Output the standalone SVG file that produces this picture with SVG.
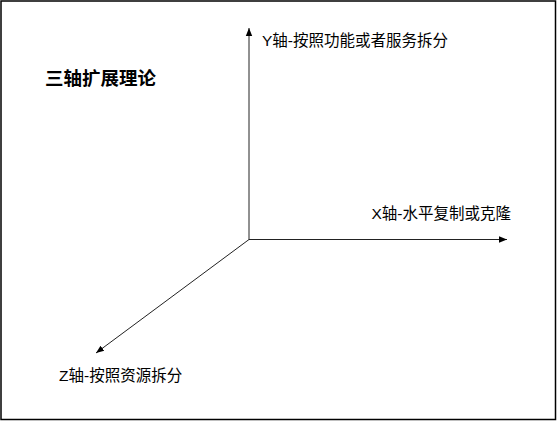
<svg xmlns="http://www.w3.org/2000/svg" width="557" height="421" viewBox="0 0 557 421">
<style>
.lbl{font-family:"Liberation Sans","Noto Sans CJK SC",sans-serif;font-size:15.5px;fill:#000}
.title{font-family:"Liberation Sans","Noto Sans CJK SC",sans-serif;font-size:18.5px;font-weight:bold;fill:#000}
.axis{stroke:#222;stroke-width:1;fill:none}
</style>
<defs>
<marker id="arr" viewBox="0 0 10 10" refX="10" refY="5" markerWidth="8" markerHeight="8" markerUnits="userSpaceOnUse" orient="auto">
<path d="M0,1 L10,5 L0,9 Z" fill="#000"/>
</marker>
</defs>
<rect x="1" y="1" width="554.5" height="418.5" fill="#fff" stroke="#000" stroke-width="1.5"/>
<g id="title"><text class="title" x="45" y="85">三轴扩展理论</text></g>
<g id="connectors">
<line class="axis" x1="249" y1="239.5" x2="249" y2="28" marker-end="url(#arr)"/>
<line class="axis" x1="249" y1="239.5" x2="507" y2="239.5" marker-end="url(#arr)"/>
<line class="axis" x1="249" y1="239.5" x2="96" y2="353" marker-end="url(#arr)"/>
</g>
<g id="y-label"><text class="lbl" x="262" y="46">Y轴-按照功能或者服务拆分</text></g>
<g id="x-label"><text class="lbl" x="371.5" y="219">X轴-水平复制或克隆</text></g>
<g id="z-label"><text class="lbl" x="59" y="381">Z轴-按照资源拆分</text></g>
</svg>
